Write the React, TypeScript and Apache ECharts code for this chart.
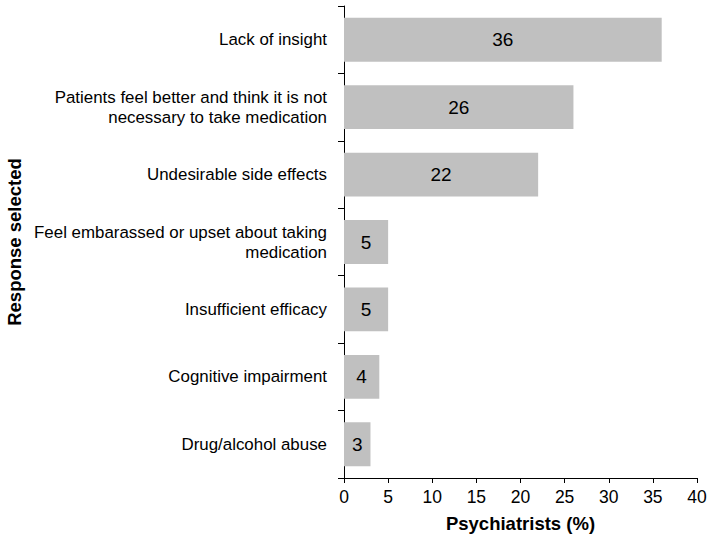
import React, { useEffect, useRef } from "react";
import * as echarts from "echarts";

const categories = [
  "Lack of insight",
  "Patients feel better and think it is not\nnecessary to take medication",
  "Undesirable side effects",
  "Feel embarassed or upset about taking\nmedication",
  "Insufficient efficacy",
  "Cognitive impairment",
  "Drug/alcohol abuse",
];
const values = [36, 26, 22, 5, 5, 4, 3];
const xTicks = { min: 0, max: 40, interval: 5 };

const FONT = "'Liberation Sans', Arial, sans-serif";

export default function App() {
  const ref = useRef<HTMLDivElement>(null);
  useEffect(() => {
    if (!ref.current) return;
    const chart = echarts.init(ref.current, undefined, { renderer: "svg" });
    chart.setOption({
      animation: false,
      textStyle: { fontFamily: FONT },
      grid: {
        left: 344,
        right: 14,
        top: 6,
        bottom: 62,
        containLabel: false,
        outerBoundsMode: "none",
      },
      xAxis: {
        type: "value",
        min: xTicks.min,
        max: xTicks.max,
        interval: xTicks.interval,
        name: "Psychiatrists (%)",
        nameLocation: "middle",
        nameGap: 36,
        nameTextStyle: { fontFamily: FONT, fontSize: 18.5, fontWeight: "bold", color: "#000" },
        axisLine: { show: true, lineStyle: { color: "#000", width: 1 } },
        axisTick: { show: true, length: 5, lineStyle: { color: "#000" } },
        axisLabel: { fontFamily: FONT, fontSize: 17.5, color: "#000", margin: 10 },
        splitLine: { show: false },
      },
      yAxis: {
        type: "category",
        data: categories,
        inverse: true,
        name: "Response selected",
        nameLocation: "middle",
        nameGap: 320,
        nameRotate: 90,
        nameTextStyle: { fontFamily: FONT, fontSize: 18.5, fontWeight: "bold", color: "#000" },
        axisLine: { show: true, lineStyle: { color: "#000", width: 1 } },
        axisTick: { show: true, length: 6, alignWithLabel: false, lineStyle: { color: "#000" } },
        axisLabel: {
          fontFamily: FONT,
          fontSize: 16.9,
          color: "#000",
          margin: 17,
          lineHeight: 20,
          align: "right",
        },
      },
      series: [
        {
          type: "bar",
          data: values,
          barCategoryGap: "35%",
          itemStyle: { color: "#c0c0c0" },
          label: {
            show: true,
            position: "inside",
            fontFamily: FONT,
            fontSize: 19,
            color: "#000",
          },
        },
      ],
    });
    return () => chart.dispose();
  }, []);
  return (
    <div
      ref={ref}
      style={{ position: "absolute", left: 0, top: 0, width: 711, height: 540 }}
    />
  );
}
